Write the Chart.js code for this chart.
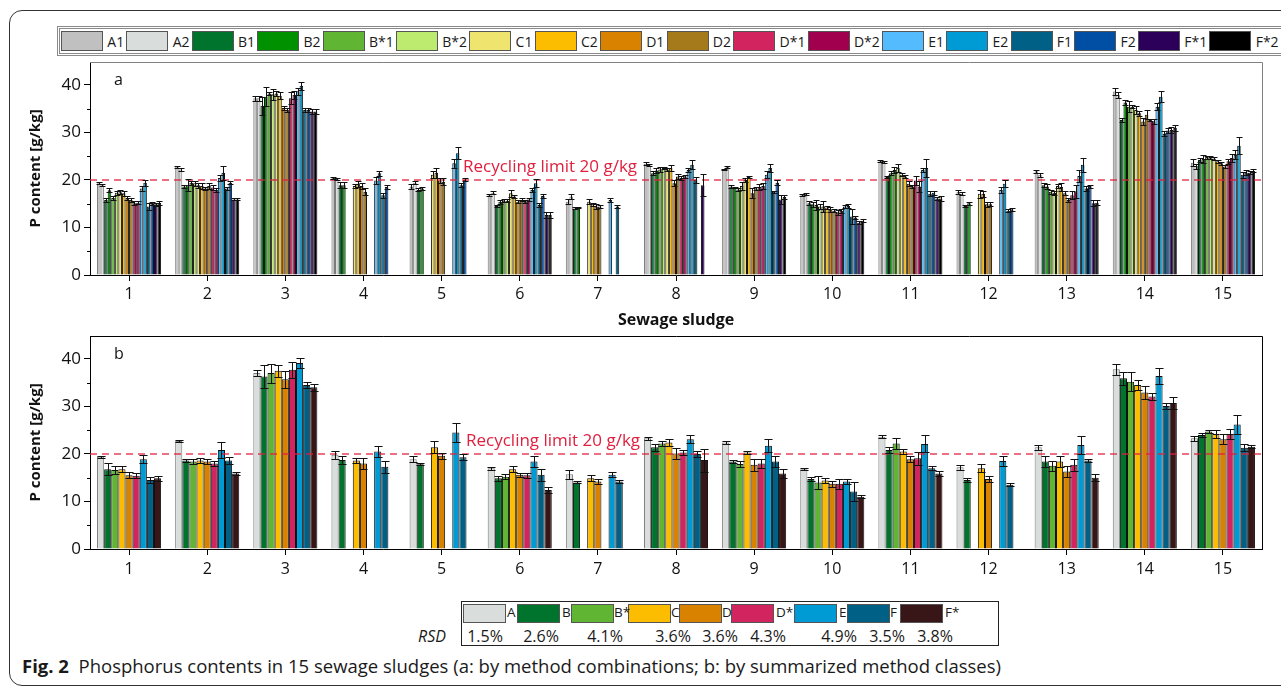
<!DOCTYPE html>
<html>
<head>
<meta charset="utf-8">
<script src="https://cdn.jsdelivr.net/npm/chart.js@4.4.1/dist/chart.umd.min.js"></script>
<style>
  body { margin: 0; width: 1281px; height: 687px; overflow: hidden; background: #fff; position: relative; font-family: "Open Sans", sans-serif; color: #1a1a1a; }
  #frame { position: absolute; left: 9px; top: 10px; width: 1320px; height: 674px; border: 1px solid #333; border-radius: 13px; }
  #legendTop { position: absolute; left: 57px; top: 26px; width: 1240px; height: 20px; padding: 2px 0; border: 3px double #8a8a8a; display: flex; align-items: center; font-size: 14px; white-space: nowrap; }
  #legendTop .sw { width: 40px; height: 18px; border: 1px solid #555; margin-left: 1px; margin-right: 4.3px; box-sizing: content-box; flex: none; }
  #legendTop .lb { margin-right: 1.2px; }
  canvas { position: absolute; left: 0; }
  #chartA { top: 55px; }
  #chartB { top: 330px; }
  #tableBox { position: absolute; left: 461px; top: 601px; width: 536px; height: 43px; border: 1px solid #222; }
  .tsw { position: absolute; top: 604px; width: 41px; height: 17px; border: 1px solid #555; }
  .tlb { position: absolute; top: 603px; font-size: 13.5px; z-index: 2; }
  .rsd { position: absolute; top: 625px; font-size: 16px; transform: translateX(-50%); }
  #rsdLabel { position: absolute; top: 625px; left: 418px; font-size: 16px; font-style: italic; }
  #caption { position: absolute; left: 22px; top: 653px; font-size: 18.5px; white-space: nowrap; }
</style>
</head>
<body>
<div id="frame"></div>
<div id="legendTop"></div>
<canvas id="chartA" width="1281" height="280"></canvas>
<canvas id="chartB" width="1281" height="260"></canvas>
<div id="tableBox"></div>
<div id="rsdLabel">RSD</div>
<div id="caption"><b>Fig. 2</b>&nbsp; Phosphorus contents in 15 sewage sludges (a: by method combinations; b: by summarized method classes)</div>
<script>
// categories and axis ticks
var sludges = ['1', '2', '3', '4', '5', '6', '7', '8', '9', '10', '11', '12', '13', '14', '15'];
var yTicks = [0, 5, 10, 15, 20, 25, 30, 35, 40];
var limit = 20;

// panel a: method combinations (g/kg)
var namesA = ['A1', 'A2', 'B1', 'B2', 'B*1', 'B*2', 'C1', 'C2', 'D1', 'D2', 'D*1', 'D*2', 'E1', 'E2', 'F1', 'F2', 'F*1', 'F*2'];
var A1  = [19.3, 22.8, 37.2, 20.4, 18.6, 16.8, 15.4, 23.4, 22.2, 16.8, 23.9, 17.5, 21.8, 38.6, 23.6];
var A2  = [18.9, 22.2, 37.2, 20.2, 19.4, 17.3, 16.5, 23.1, 22.7, 17.1, 23.7, 17.1, 21.1, 37.9, 22.9];
var B1  = [15.8, 18.6, 35.6, 18.9, 17.9, 14.5, 14.0, 21.4, 18.6, 15.1, 20.6, 14.5, 18.9, 32.6, 24.2];
var B2  = [17.8, 18.9, 37.5, 18.9, 18.2, 15.4, 14.2, 22.0, 18.4, 14.9, 21.4, 15.1, 18.6, 36.3, 24.4];
var Bs1 = [16.2, 19.4, 38.2, null, null, 15.6, null, 22.2, 18.0, 14.7, 22.1, null, 17.5, 35.4, 24.8];
var Bs2 = [17.3, 19.3, 38.0, null, null, 15.6, null, 22.5, 18.7, 14.4, 22.5, null, 17.3, 35.4, 24.8];
var C1  = [17.4, 18.9, 38.2, 18.7, 21.1, 17.2, 15.4, 22.2, 20.0, 14.4, 21.1, 17.1, 18.7, 34.7, 24.5];
var C2  = [17.2, 18.7, 37.7, 19.2, 21.5, 16.5, 14.9, 22.5, 20.6, 14.2, 20.7, 17.1, 18.5, 34.0, 23.9];
var D1  = [16.2, 18.2, 35.1, 18.7, 19.9, 15.4, 14.4, 19.3, 17.2, 13.8, 19.2, 14.9, 17.2, 32.3, 23.5];
var D2  = [15.8, 18.7, 34.7, 17.5, 19.6, 15.8, 14.4, 20.7, 18.2, 13.5, 18.6, 14.9, 15.8, 33.7, 22.8];
var Ds1 = [15.1, 18.4, 37.2, null, null, 15.4, null, 20.4, 18.5, 13.1, 19.9, null, 16.8, 32.6, 23.9];
var Ds2 = [15.2, 17.9, 37.9, null, null, 15.9, null, 20.7, 18.7, 13.5, 18.6, null, 17.5, 32.3, 24.6];
var E1  = [18.2, 20.4, 38.6, 19.9, 23.5, 17.9, 15.8, 22.1, 21.1, 14.4, 22.1, 17.9, 20.8, 35.4, 25.3];
var E2  = [19.4, 21.5, 39.8, 21.4, 25.6, 19.3, null, 23.2, 22.5, 14.5, 22.5, 19.2, 23.2, 37.5, 27.2];
var F1  = [14.4, 18.2, 34.7, 16.8, 18.9, 14.7, 14.4, 20.0, 17.5, 12.3, 17.1, 13.5, 18.2, 29.7, 21.1];
var F2  = [15.1, 19.4, 34.7, 18.5, 20.0, 16.6, null, null, 19.4, 12.1, 17.3, 13.7, 18.7, 30.4, 21.5];
var Fs1 = [14.9, 15.9, 34.4, null, null, 12.6, null, 18.9, 15.9, 11.0, 16.1, null, 15.1, 30.5, 21.5];
var Fs2 = [15.2, 15.9, 34.4, null, null, 12.6, null, null, 16.4, 11.4, 16.1, null, 15.2, 30.9, 21.9];

// panel a: standard deviations
var A1_err  = [0.2, 0.2, 0.5, 0.2, 0.5, 0.2, 0.5, 0.3, 0.2, 0.2, 0.2, 0.4, 0.3, 0.8, 0.7];
var A2_err  = [0.2, 0.3, 0.5, 0.2, 0.3, 0.3, 0.5, 0.2, 0.2, 0.2, 0.2, 0.3, 0.4, 0.6, 0.5];
var B1_err  = [0.5, 0.4, 1.9, 0.6, 0.3, 0.3, 0.2, 0.4, 0.3, 0.4, 0.3, 0.3, 0.4, 0.5, 0.4];
var B2_err  = [0.4, 1.2, 2.0, 0.6, 0.3, 0.4, 0.2, 0.5, 0.2, 0.5, 0.4, 0.3, 0.6, 0.5, 0.8];
var Bs1_err = [0.4, 0.4, 0.3, 0, 0, 0.3, 0, 0.5, 0.3, 1.1, 0.6, 0, 0.4, 1.1, 0.3];
var Bs2_err = [0.4, 0.5, 1.1, 0, 0, 0.3, 0, 0.3, 0.9, 0.6, 0.8, 0, 0.4, 0.3, 0.3];
var C1_err  = [0.4, 0.5, 0.6, 0.5, 0.7, 0.7, 0.5, 0.4, 0.4, 1.2, 0.3, 0.8, 0.5, 0.9, 0.3];
var C2_err  = [0.5, 0.6, 0.7, 0.6, 1.1, 0.4, 0.3, 0.6, 0.3, 0.3, 0.4, 0.6, 0.8, 0.5, 0.3];
var D1_err  = [0.5, 0.4, 0.4, 0.6, 0.5, 0.3, 0.5, 0.6, 1.0, 0.5, 0.5, 0.5, 0.4, 0.8, 0.3];
var D2_err  = [0.4, 0.6, 0.5, 0.7, 0.7, 0.3, 0.4, 0.5, 0.3, 0.3, 0.3, 0.4, 0.5, 0.9, 0.4];
var Ds1_err = [0.4, 0.5, 1.2, 0, 0, 0.3, 0, 0.5, 0.7, 0.5, 1.0, 0, 0.9, 0.3, 0.5];
var Ds2_err = [0.3, 0.4, 0.8, 0, 0, 0.3, 0, 0.4, 0.6, 0.4, 1.1, 0, 1.4, 0.5, 0.9];
var E1_err  = [0.6, 0.6, 0.7, 0.7, 0.9, 0.5, 0.5, 0.5, 0.8, 0.3, 0.5, 0.6, 1.2, 0.7, 0.9];
var E2_err  = [0.6, 1.5, 0.8, 0.5, 1.3, 0.8, 0, 0.9, 0.9, 0.4, 1.8, 0.7, 1.5, 1.1, 1.8];
var F1_err  = [0.8, 0.4, 0.5, 0.5, 0.4, 0.5, 0.4, 0.6, 0.2, 1.6, 0.5, 0.3, 0.5, 0.5, 0.6];
var F2_err  = [0.3, 0.3, 0.5, 0.5, 0.3, 0.5, 0, 0, 0.5, 0.3, 0.4, 0.3, 0.3, 0.5, 0.5];
var Fs1_err = [0.3, 0.2, 0.6, 0, 0, 0.6, 0, 2.3, 1.0, 0.3, 0.4, 0, 0.6, 0.7, 0.3];
var Fs2_err = [0.4, 0.2, 0.6, 0, 0, 0.6, 0, 0, 0.4, 0.3, 0.5, 0, 0.5, 0.6, 0.3];

// panel b: summarized method classes (g/kg)
var namesB = ['A', 'B', 'B*', 'C', 'D', 'D*', 'E', 'F', 'F*'];
var rsd = ['1.5%', '2.6%', '4.1%', '3.6%', '3.6%', '4.3%', '4.9%', '3.5%', '3.8%'];
var A  = [19.4, 22.7, 37.0, 19.8, 18.9, 17.0, 15.7, 23.3, 22.4, 16.8, 23.6, 17.2, 21.4, 37.8, 23.3];
var B  = [16.8, 18.6, 36.3, 18.7, 17.8, 14.9, 14.0, 21.4, 18.4, 14.7, 20.8, 14.5, 18.4, 35.9, 24.0];
var Bs = [16.6, 18.4, 37.0, null, null, 15.2, null, 22.2, 17.9, 14.0, 22.2, null, 17.5, 35.2, 24.7];
var C  = [16.8, 18.6, 37.5, 18.6, 21.4, 16.8, 14.9, 22.4, 20.3, 14.4, 20.5, 17.0, 18.4, 34.5, 24.2];
var D  = [15.5, 18.4, 35.7, 18.0, 19.6, 15.6, 14.2, 20.1, 17.7, 13.7, 18.9, 14.7, 16.3, 32.9, 23.1];
var Ds = [15.4, 18.0, 37.7, null, null, 15.5, null, 20.3, 18.0, 13.7, 19.1, null, 17.7, 32.1, 24.2];
var E  = [18.9, 20.8, 39.1, 20.5, 24.5, 18.4, 15.6, 23.1, 21.7, 14.2, 22.1, 18.5, 21.9, 36.4, 26.2];
var F  = [14.5, 18.6, 34.5, 17.3, 19.3, 15.6, 14.2, 20.0, 18.4, 12.1, 17.0, 13.5, 18.6, 30.1, 21.3];
var Fs = [14.9, 15.9, 34.0, null, null, 12.4, null, 18.7, 15.9, 11.0, 15.9, null, 15.0, 30.7, 21.5];

var A_err  = [0.2, 0.2, 0.6, 0.9, 0.6, 0.3, 0.9, 0.3, 0.3, 0.2, 0.3, 0.5, 0.5, 1.1, 0.5];
var B_err  = [1.2, 0.3, 2.4, 0.8, 0.2, 0.5, 0.2, 0.7, 0.3, 0.5, 0.6, 0.5, 1.2, 1.4, 0.4];
var Bs_err = [0.8, 0.6, 2.0, 0, 0, 0.5, 0, 0.6, 0.6, 1.4, 1.1, 0, 1.0, 2.0, 0.4];
var C_err  = [0.7, 0.6, 1.3, 0.6, 1.3, 0.6, 0.7, 0.8, 0.4, 0.6, 0.5, 0.8, 1.1, 1.0, 0.8];
var D_err  = [0.6, 0.6, 1.8, 1.2, 0.6, 0.4, 0.6, 1.1, 1.2, 0.7, 0.7, 0.6, 1.2, 1.4, 1.0];
var Ds_err = [0.5, 0.5, 1.7, 0, 0, 0.5, 0, 0.6, 1.0, 1.1, 1.4, 0, 1.2, 0.8, 1.0];
var E_err  = [0.9, 1.7, 1.1, 1.1, 1.9, 1.2, 0.5, 0.9, 1.4, 0.5, 1.8, 1.0, 1.9, 1.6, 2.0];
var F_err  = [0.7, 0.8, 0.6, 1.3, 0.6, 1.3, 0.4, 0.6, 1.2, 1.9, 0.4, 0.3, 0.4, 0.7, 0.7];
var Fs_err = [0.5, 0.3, 0.7, 0, 0, 0.6, 0, 2.4, 1.0, 0.3, 0.6, 0, 0.7, 1.3, 0.3];

var colorsA = ['#c0c0c0', '#d9dedd', '#00732d', '#009100', '#60b532', '#bdeb70', '#efe46e', '#fcbd00',
               '#d98200', '#a57a1b', '#d22560', '#a0004e', '#55bbff', '#009bd5', '#006085', '#004fa5', '#2c005a', '#000000'];
var colorsB = ['#d9dedd', '#00732d', '#60b532', '#fcbd00', '#d98200', '#d22560', '#009bd5', '#006085', '#381517'];

var valuesA = [A1, A2, B1, B2, Bs1, Bs2, C1, C2, D1, D2, Ds1, Ds2, E1, E2, F1, F2, Fs1, Fs2];
var errorsA = [A1_err, A2_err, B1_err, B2_err, Bs1_err, Bs2_err, C1_err, C2_err, D1_err, D2_err, Ds1_err, Ds2_err,
               E1_err, E2_err, F1_err, F2_err, Fs1_err, Fs2_err];
var valuesB = [A, B, Bs, C, D, Ds, E, F, Fs];
var errorsB = [A_err, B_err, Bs_err, C_err, D_err, Ds_err, E_err, F_err, Fs_err];

var FONT = 'Open Sans';

// error bars drawn with the y scale
var errorBars = {
  id: 'errorBars',
  afterDatasetsDraw: function (chart) {
    var ctx = chart.ctx, y = chart.scales.y;
    ctx.save();
    ctx.strokeStyle = '#111';
    ctx.lineWidth = 1;
    chart.data.datasets.forEach(function (ds, i) {
      var meta = chart.getDatasetMeta(i);
      meta.data.forEach(function (bar, j) {
        var v = ds.data[j], e = ds.err[j];
        if (v == null || !e) return;
        var x = Math.round(bar.x) + 0.5;
        var t = Math.round(y.getPixelForValue(v + e)) + 0.5;
        var b = Math.round(y.getPixelForValue(v - e)) + 0.5;
        var w = Math.max(3, bar.width / 2 + 0.5);
        ctx.beginPath();
        ctx.moveTo(x, t); ctx.lineTo(x, b);
        ctx.moveTo(x - w, t); ctx.lineTo(x + w, t);
        ctx.moveTo(x - w, b); ctx.lineTo(x + w, b);
        ctx.stroke();
      });
    });
    ctx.restore();
  }
};

// limit line, panel letter, frame and minor ticks
var decor = {
  id: 'decor',
  beforeDatasetsDraw: function (chart, args, opts) {
    var ctx = chart.ctx, area = chart.chartArea, y = chart.scales.y;
    ctx.save();
    // frame top/right
    ctx.strokeStyle = opts.frameColor;
    ctx.lineWidth = 1;
    ctx.beginPath();
    ctx.moveTo(area.left, area.top + 0.5); ctx.lineTo(area.right + 0.5, area.top + 0.5);
    ctx.lineTo(area.right + 0.5, area.bottom);
    ctx.stroke();
    // minor ticks
    ctx.strokeStyle = '#000';
    yTicks.forEach(function (v) {
      if (v % 10 === 0) return;
      var py = Math.round(y.getPixelForValue(v)) + 0.5;
      ctx.beginPath(); ctx.moveTo(area.left - 3, py); ctx.lineTo(area.left, py); ctx.stroke();
    });
    // panel letter
    ctx.fillStyle = '#111';
    ctx.font = '16px "' + FONT + '"';
    ctx.textBaseline = 'middle';
    ctx.fillText(opts.letter, area.left + 24, area.top + opts.letterDy);
    ctx.restore();
  },
  afterDatasetsDraw: function (chart, args, opts) {
    var ctx = chart.ctx, area = chart.chartArea, y = chart.scales.y;
    var py = y.getPixelForValue(limit);
    ctx.save();
    ctx.strokeStyle = 'rgba(226, 30, 60, 0.85)';
    ctx.lineWidth = 1.5;
    ctx.setLineDash([7, 5]);
    ctx.beginPath(); ctx.moveTo(area.left, py); ctx.lineTo(area.right, py); ctx.stroke();
    ctx.fillStyle = '#e0203f';
    ctx.font = '17px "' + FONT + '"';
    ctx.textBaseline = 'bottom';
    ctx.fillText('Recycling limit 20 g/kg', area.left + opts.textDx, py - 4);
    ctx.restore();
  }
};

function buildDatasets(names, values, errors, colors, greyEdge) {
  return names.map(function (n, i) {
    return {
      label: n,
      data: values[i],
      err: errors[i],
      backgroundColor: colors[i],
      borderColor: i < greyEdge ? '#7a7a7a' : '#111',
      borderWidth: 1,
      categoryPercentage: 0.82,
      barPercentage: 1.0
    };
  });
}

function makeOptions(cfg) {
  return {
    responsive: false,
    animation: false,
    events: [],
    layout: { padding: { top: cfg.padTop, right: 19, left: 0, bottom: 0 } },
    plugins: {
      legend: { display: false },
      tooltip: { enabled: false },
      decor: { frameColor: cfg.frameColor, letter: cfg.letter, letterDy: cfg.letterDy, textDx: cfg.textDx }
    },
    scales: {
      x: {
        type: 'category',
        offset: true,
        grid: { drawOnChartArea: false, offset: false, tickLength: 6, color: '#000' },
        border: { color: '#000', width: 1 },
        ticks: { color: '#111', font: { family: FONT, size: 16 }, padding: cfg.xPad, maxRotation: 0, autoSkip: false },
        title: cfg.xTitle ? { display: true, text: cfg.xTitle, color: '#111',
          font: { family: FONT, size: 16, weight: 'bold' }, padding: { top: 0, bottom: 5 } } : { display: false },
        afterFit: function (s) { s.height = cfg.xHeight; s.paddingLeft = 0; s.paddingRight = 0; }
      },
      y: {
        min: 0,
        max: 44.8,
        afterBuildTicks: function (s) { s.ticks = yTicks.map(function (v) { return { value: v }; }); },
        grid: {
          drawOnChartArea: false, tickLength: 6,
          tickColor: function (c) { return c.tick && c.tick.value % 10 === 0 ? '#000' : 'rgba(0,0,0,0)'; }
        },
        border: { color: '#000', width: 1 },
        ticks: {
          color: '#111', font: { family: FONT, size: 17 }, padding: 3,
          callback: function (v) { return v % 10 === 0 ? v : ''; }
        },
        title: { display: true, text: 'P content [g/kg]', color: '#111',
          font: { family: FONT, size: 15, weight: 'bold' }, padding: { top: 27, bottom: 0 } },
        afterFit: function (s) { s.width = 90; s.paddingTop = 0; s.paddingBottom = 0; }
      }
    }
  };
}

new Chart(document.getElementById('chartA'), {
  type: 'bar',
  data: { labels: sludges, datasets: buildDatasets(namesA, valuesA, errorsA, colorsA, 2) },
  options: makeOptions({ padTop: 7, xHeight: 60, xPad: 4, xTitle: 'Sewage sludge', frameColor: '#808080',
    letter: 'a', letterDy: 18, textDx: 373 }),
  plugins: [decor, errorBars]
});

new Chart(document.getElementById('chartB'), {
  type: 'bar',
  data: { labels: sludges, datasets: buildDatasets(namesB, valuesB, errorsB, colorsB, 1) },
  options: makeOptions({ padTop: 6, xHeight: 41, xPad: 5, xTitle: null, frameColor: '#000',
    letter: 'b', letterDy: 18, textDx: 376 }),
  plugins: [decor, errorBars]
});

// top legend
var legendTop = document.getElementById('legendTop');
namesA.forEach(function (n, i) {
  var sw = document.createElement('div');
  sw.className = 'sw';
  sw.style.background = colorsA[i];
  var lb = document.createElement('span');
  lb.className = 'lb';
  lb.textContent = n;
  legendTop.appendChild(sw);
  legendTop.appendChild(lb);
});

// bottom legend table with RSD row
var swX = [463, 517, 571, 628, 679, 731, 794, 847, 900];
var lbX = [507, 562, 614, 671, 722, 776, 839, 890, 945];
var rsdX = [485, 541, 605, 673, 720, 768, 839, 887, 935];
namesB.forEach(function (n, i) {
  var sw = document.createElement('div');
  sw.className = 'tsw';
  sw.style.left = swX[i] + 'px';
  sw.style.background = colorsB[i];
  document.body.appendChild(sw);
  var lb = document.createElement('div');
  lb.className = 'tlb';
  lb.style.left = lbX[i] + 'px';
  lb.textContent = n;
  document.body.appendChild(lb);
  var r = document.createElement('div');
  r.className = 'rsd';
  r.style.left = rsdX[i] + 'px';
  r.textContent = rsd[i];
  document.body.appendChild(r);
});
</script>
</body>
</html>
